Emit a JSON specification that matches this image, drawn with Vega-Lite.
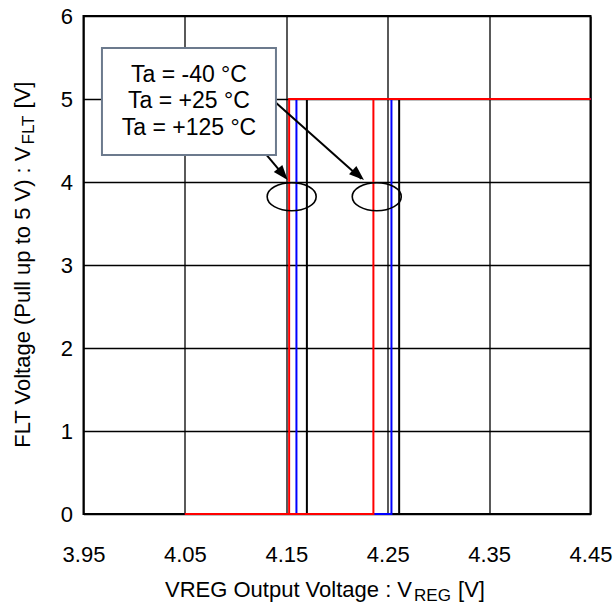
{
  "$schema": "https://vega.github.io/schema/vega-lite/v6.json",
  "width": 507,
  "height": 498,
  "autosize": {"type": "none"},
  "padding": {"left": 83.5, "top": 16, "right": 23.5, "bottom": 92},
  "background": "white",
  "config": {
    "font": "Liberation Sans",
    "view": {"stroke": "black", "strokeWidth": 2}
  },
  "datasets": {
    "curves": [
      {"series": "Ta = -40 °C", "sweep": "up", "i": 1, "v": 4.05, "f": 0},
      {"series": "Ta = -40 °C", "sweep": "up", "i": 2, "v": 4.2613, "f": 0},
      {"series": "Ta = -40 °C", "sweep": "up", "i": 3, "v": 4.2613, "f": 5},
      {"series": "Ta = -40 °C", "sweep": "up", "i": 4, "v": 4.45, "f": 5},
      {"series": "Ta = -40 °C", "sweep": "down", "i": 1, "v": 4.45, "f": 5},
      {"series": "Ta = -40 °C", "sweep": "down", "i": 2, "v": 4.1703, "f": 5},
      {"series": "Ta = -40 °C", "sweep": "down", "i": 3, "v": 4.1703, "f": 0},
      {"series": "Ta = -40 °C", "sweep": "down", "i": 4, "v": 4.05, "f": 0},
      {"series": "Ta = +25 °C", "sweep": "up", "i": 1, "v": 4.05, "f": 0},
      {"series": "Ta = +25 °C", "sweep": "up", "i": 2, "v": 4.2537, "f": 0},
      {"series": "Ta = +25 °C", "sweep": "up", "i": 3, "v": 4.2537, "f": 5},
      {"series": "Ta = +25 °C", "sweep": "up", "i": 4, "v": 4.45, "f": 5},
      {"series": "Ta = +25 °C", "sweep": "down", "i": 1, "v": 4.45, "f": 5},
      {"series": "Ta = +25 °C", "sweep": "down", "i": 2, "v": 4.16, "f": 5},
      {"series": "Ta = +25 °C", "sweep": "down", "i": 3, "v": 4.16, "f": 0},
      {"series": "Ta = +25 °C", "sweep": "down", "i": 4, "v": 4.05, "f": 0},
      {"series": "Ta = +125 °C", "sweep": "up", "i": 1, "v": 4.05, "f": 0},
      {"series": "Ta = +125 °C", "sweep": "up", "i": 2, "v": 4.2359, "f": 0},
      {"series": "Ta = +125 °C", "sweep": "up", "i": 3, "v": 4.2359, "f": 5},
      {"series": "Ta = +125 °C", "sweep": "up", "i": 4, "v": 4.45, "f": 5},
      {"series": "Ta = +125 °C", "sweep": "down", "i": 1, "v": 4.45, "f": 5},
      {"series": "Ta = +125 °C", "sweep": "down", "i": 2, "v": 4.1528, "f": 5},
      {"series": "Ta = +125 °C", "sweep": "down", "i": 3, "v": 4.1528, "f": 0},
      {"series": "Ta = +125 °C", "sweep": "down", "i": 4, "v": 4.05, "f": 0}
    ]
  },
  "layer": [
    {
      "data": {"name": "curves"},
      "mark": {"type": "line", "strokeWidth": 2},
      "encoding": {
        "x": {
          "field": "v", "type": "quantitative",
          "scale": {"domain": [3.95, 4.45], "nice": false, "zero": false},
          "axis": {
            "values": [3.95, 4.05, 4.15, 4.25, 4.35, 4.45], "format": ".2f", "title": null,
            "domain": false, "ticks": false, "tickSize": 0,
            "labelFontSize": 22, "labelColor": "black", "labelPadding": 30,
            "labelFlush": false, "labelOverlap": false, "labelBound": false,
            "grid": true, "gridColor": "black", "gridWidth": 1.3, "gridOpacity": 1
          }
        },
        "y": {
          "field": "f", "type": "quantitative",
          "scale": {"domain": [0, 6], "nice": false},
          "axis": {
            "values": [0, 1, 2, 3, 4, 5, 6], "format": "d", "title": null,
            "domain": false, "ticks": false, "tickSize": 0,
            "labelFontSize": 22, "labelColor": "black", "labelPadding": 11,
            "labelFlush": false, "labelOverlap": false, "labelBound": false,
            "grid": true, "gridColor": "black", "gridWidth": 1.3, "gridOpacity": 1
          }
        },
        "color": {
          "field": "series", "type": "nominal",
          "scale": {"domain": ["Ta = -40 °C", "Ta = +25 °C", "Ta = +125 °C"], "range": ["#000000", "#0000ff", "#ff0000"]},
          "legend": null
        },
        "detail": {"field": "sweep"},
        "order": {"field": "i"}
      }
    },
    {
      "data": {"values": [{}]},
      "mark": {"type": "rule", "color": "black", "strokeWidth": 2},
      "encoding": {
        "x": {"datum": 4.1181, "type": "quantitative"},
        "y": {"datum": 4.506, "type": "quantitative"},
        "x2": {"datum": 4.1495},
        "y2": {"datum": 4.05}
      }
    },
    {
      "data": {"values": [{}]},
      "mark": {"type": "rule", "color": "black", "strokeWidth": 2},
      "encoding": {
        "x": {"datum": 4.129, "type": "quantitative"},
        "y": {"datum": 5.072, "type": "quantitative"},
        "x2": {"datum": 4.224},
        "y2": {"datum": 4.04}
      }
    },
    {
      "data": {"values": [{}]},
      "mark": {"type": "rect", "fill": "white", "stroke": "#6c7a8d", "strokeWidth": 2},
      "encoding": {
        "x": {"datum": 3.9682, "type": "quantitative"},
        "x2": {"datum": 4.1398},
        "y": {"datum": 5.614, "type": "quantitative"},
        "y2": {"datum": 4.325}
      }
    },
    {
      "data": {"values": [{}]},
      "mark": {"type": "point", "shape": "M 0 0 L -0.37 1 L 0.37 1 Z", "size": 900, "angle": 140, "filled": true, "color": "black", "opacity": 1},
      "encoding": {
        "x": {"datum": 4.1514, "type": "quantitative"},
        "y": {"datum": 4.024, "type": "quantitative"}
      }
    },
    {
      "data": {"values": [{}]},
      "mark": {"type": "point", "shape": "M 0 0 L -0.37 1 L 0.37 1 Z", "size": 900, "angle": 131.3, "filled": true, "color": "black", "opacity": 1},
      "encoding": {
        "x": {"datum": 4.2266, "type": "quantitative"},
        "y": {"datum": 4.024, "type": "quantitative"}
      }
    },
    {
      "data": {"values": [{}]},
      "mark": {"type": "point", "shape": "M -1 0 A 1 0.571 0 1 0 1 0 A 1 0.571 0 1 0 -1 0 Z", "size": 2401, "filled": false, "stroke": "black", "strokeWidth": 1.6, "opacity": 1},
      "encoding": {
        "x": {"datum": 4.1553, "type": "quantitative"},
        "y": {"datum": 3.823, "type": "quantitative"}
      }
    },
    {
      "data": {"values": [{}]},
      "mark": {"type": "point", "shape": "M -1 0 A 1 0.571 0 1 0 1 0 A 1 0.571 0 1 0 -1 0 Z", "size": 2401, "filled": false, "stroke": "black", "strokeWidth": 1.6, "opacity": 1},
      "encoding": {
        "x": {"datum": 4.2392, "type": "quantitative"},
        "y": {"datum": 3.823, "type": "quantitative"}
      }
    },
    {
      "data": {"values": [{}]},
      "mark": {"type": "text", "text": ["Ta = -40 °C", "Ta = +25 °C", "Ta = +125 °C"], "fontSize": 23, "lineHeight": 26.7, "align": "center", "baseline": "alphabetic", "color": "black"},
      "encoding": {
        "x": {"datum": 4.054, "type": "quantitative"},
        "y": {"datum": 5.2084, "type": "quantitative"}
      }
    },
    {
      "data": {"values": [{}]},
      "mark": {"type": "text", "text": "VREG Output Voltage : V", "fontSize": 22, "align": "right", "baseline": "alphabetic", "color": "black"},
      "encoding": {
        "x": {"datum": 4.274, "type": "quantitative"},
        "y": {"datum": -1.0, "type": "quantitative"}
      }
    },
    {
      "data": {"values": [{}]},
      "mark": {"type": "text", "text": "REG", "fontSize": 17, "align": "left", "baseline": "alphabetic", "dx": 2, "dy": 4, "color": "black"},
      "encoding": {
        "x": {"datum": 4.274, "type": "quantitative"},
        "y": {"datum": -1.0, "type": "quantitative"}
      }
    },
    {
      "data": {"values": [{}]},
      "mark": {"type": "text", "text": "[V]", "fontSize": 22, "align": "left", "baseline": "alphabetic", "dx": 46, "color": "black"},
      "encoding": {
        "x": {"datum": 4.274, "type": "quantitative"},
        "y": {"datum": -1.0, "type": "quantitative"}
      }
    },
    {
      "data": {"values": [{}]},
      "mark": {"type": "text", "text": "FLT Voltage (Pull up to 5 V) : V", "fontSize": 22, "angle": 270, "align": "right", "baseline": "alphabetic", "color": "black"},
      "encoding": {
        "x": {"datum": 3.8972, "type": "quantitative"},
        "y": {"datum": 4.428, "type": "quantitative"}
      }
    },
    {
      "data": {"values": [{}]},
      "mark": {"type": "text", "text": "FLT", "fontSize": 17, "angle": 270, "align": "left", "baseline": "alphabetic", "dx": 2, "dy": 4, "color": "black"},
      "encoding": {
        "x": {"datum": 3.8972, "type": "quantitative"},
        "y": {"datum": 4.428, "type": "quantitative"}
      }
    },
    {
      "data": {"values": [{}]},
      "mark": {"type": "text", "text": "[V]", "fontSize": 22, "angle": 270, "align": "left", "baseline": "alphabetic", "dx": 38, "color": "black"},
      "encoding": {
        "x": {"datum": 3.8972, "type": "quantitative"},
        "y": {"datum": 4.428, "type": "quantitative"}
      }
    }
  ]
}
